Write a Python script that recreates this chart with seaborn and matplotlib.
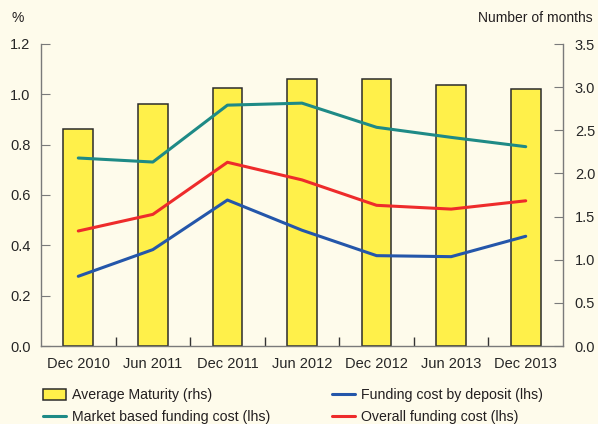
import numpy as np
import pandas as pd
import seaborn as sns
import matplotlib.pyplot as plt
from matplotlib.patches import Patch
from matplotlib.lines import Line2D
from matplotlib.ticker import FixedLocator

periods = ['Dec 2010', 'Jun 2011', 'Dec 2011', 'Jun 2012', 'Dec 2012', 'Jun 2013', 'Dec 2013']
avg_maturity = [2.51, 2.81, 2.99, 3.09, 3.10, 3.02, 2.98]
market_cost = [0.747, 0.731, 0.957, 0.965, 0.869, 0.829, 0.792]
overall_cost = [0.457, 0.523, 0.730, 0.660, 0.559, 0.544, 0.577]
deposit_cost = [0.277, 0.383, 0.580, 0.460, 0.359, 0.355, 0.436]

bg = '#FEFBEB'
yellow = '#FFF04A'
teal = '#1E8A86'
blue = '#2456AA'
red = '#EE2B2B'
grey = '#7a7a7a'

sns.set_style('ticks')
plt.rcParams['font.family'] = ['Liberation Sans', 'DejaVu Sans']
plt.rcParams['font.size'] = 10
plt.rcParams['text.color'] = '#231f20'

df_bar = pd.DataFrame({'period': periods, 'months': avg_maturity})
df_line = pd.DataFrame({
    'period': periods * 3,
    'value': market_cost + overall_cost + deposit_cost,
    'series': ['market'] * 7 + ['overall'] * 7 + ['deposit'] * 7,
})

fig = plt.figure(figsize=(5.98, 4.24), dpi=100, facecolor=bg)
ax = fig.add_axes([41 / 598, 1 - 346 / 424, 522 / 598, 302 / 424])
ax2 = ax.twinx()

sns.barplot(data=df_bar, x='period', y='months', ax=ax2, color=yellow,
            width=0.4, edgecolor='#2b2b2b', linewidth=1.1, saturation=1)
sns.lineplot(data=df_line, x='period', y='value', hue='series', ax=ax,
             palette={'market': teal, 'overall': red, 'deposit': blue},
             linewidth=2.2, legend=False, sort=False)

ax.set_zorder(ax2.get_zorder() + 1)
ax.patch.set_visible(False)
ax2.patch.set_visible(False)

ax.set_xlim(-0.5, 6.5)
ax.set_ylim(0, 1.2)
ax2.set_ylim(0, 3.5)
ax.set_yticks(np.arange(0, 1.21, 0.2))
ax.set_yticklabels([f'{v:.1f}' for v in np.arange(0, 1.21, 0.2)])
ax2.set_yticks(np.arange(0, 3.51, 0.5))
ax2.set_yticklabels([f'{v:.1f}' for v in np.arange(0, 3.51, 0.5)])
ax.set_xlabel('')
ax.set_ylabel('')
ax2.set_xlabel('')
ax2.set_ylabel('')

for a in (ax, ax2):
    a.spines['top'].set_visible(False)
    for s in ('left', 'right', 'bottom'):
        a.spines[s].set_color(grey)
        a.spines[s].set_linewidth(1.0)
ax.spines['right'].set_visible(False)
ax2.spines['left'].set_visible(False)
ax2.spines['bottom'].set_visible(False)

ax.tick_params(axis='y', direction='in', length=6.5, color=grey, pad=7.5, labelsize=10.5)
ax2.tick_params(axis='y', direction='in', length=6.5, color=grey, pad=8.5, labelsize=10.5)
ax.tick_params(axis='x', which='major', length=0, pad=8, labelsize=10.5)
ax.xaxis.set_minor_locator(FixedLocator(np.arange(0.5, 6, 1)))
ax.tick_params(axis='x', which='minor', direction='in', length=6.5, color='#333333', width=1)

fig.text(12 / 598, 1 - 18 / 424, '%', ha='left', va='center', fontsize=10)
fig.text(593 / 598, 1 - 18 / 424, 'Number of months', ha='right', va='center', fontsize=10)

handles = [
    Patch(facecolor=yellow, edgecolor='#2b2b2b', linewidth=1.1),
    Line2D([], [], color=teal, linewidth=2.2),
    Line2D([], [], color=blue, linewidth=2.2),
    Line2D([], [], color=red, linewidth=2.2),
]
labels = ['Average Maturity (rhs)', 'Market based funding cost (lhs)',
          'Funding cost by deposit (lhs)', 'Overall funding cost (lhs)']
fig.legend(handles, labels, ncol=2, loc='lower left',
           bbox_to_anchor=(30 / 598, -13 / 424), frameon=False,
           handlelength=1.65, handleheight=0.75, handletextpad=0.45,
           columnspacing=4.3, labelspacing=0.55, fontsize=10.2)

fig.savefig('out.png', dpi=100, facecolor=bg)
